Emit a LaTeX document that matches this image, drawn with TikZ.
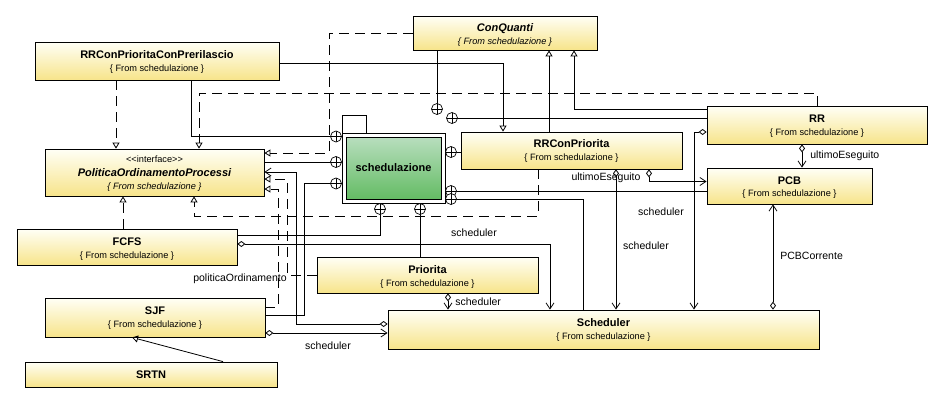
\documentclass[tikz,border=0pt]{standalone}
\usepackage{fontspec}
\setmainfont{Liberation Sans}
\usetikzlibrary{arrows.meta,calc,fit}
\definecolor{ytop}{RGB}{255,255,246}
\definecolor{ybot}{RGB}{247,228,138}
\definecolor{gtop}{RGB}{184,222,190}
\definecolor{gbot}{RGB}{100,188,100}
\begin{document}
\begin{tikzpicture}[x=1pt,y=-1pt,line width=0.8pt,
  cls/.style={draw,inner sep=0pt,top color=ytop,bottom color=ybot,line width=0.8pt},
  nm/.style={font=\fontsize{11}{13}\selectfont\bfseries,inner sep=0pt},
  nmi/.style={font=\fontsize{11}{13}\selectfont\bfseries\itshape,inner sep=0pt},
  frm/.style={font=\fontsize{9.2}{11}\selectfont,inner sep=0pt},
  frmi/.style={font=\fontsize{9.2}{11}\selectfont\itshape,inner sep=0pt},
  lbl/.style={font=\fontsize{10.5}{12}\selectfont,inner sep=0pt},
  gen/.style={-{Triangle[open,length=6pt,width=7pt]}},
  real/.style={gen,dash pattern=on 10pt off 6pt},
  agg/.style={{Diamond[open,length=8pt,width=6pt]}-{Straight Barb[length=6pt,width=8pt]}},
  oplus/.style={circle,draw,fill=white,minimum size=11pt,inner sep=0pt,line width=0.7pt,
    path picture={\draw[line width=0.7pt] (path picture bounding box.north) -- (path picture bounding box.south)
      (path picture bounding box.west) -- (path picture bounding box.east);}}
]
\fill[white] (0,0) rectangle (942,402);
\useasboundingbox (0,0) rectangle (942,402);

% classes
\node[cls,fit={(35,42)(279,80)}] (rrcpp) {};
\node[cls,fit={(45,149)(264,196)}] (pol) {};
\node[cls,fit={(413,16)(597,50)}] (cq) {};
\node[cls,fit={(461,132)(682,169)}] (rrcp) {};
\node[cls,fit={(707,106)(927,144)}] (rr) {};
\node[cls,fit={(707,168)(872,204)}] (pcb) {};
\node[cls,fit={(17,229)(237,265)}] (fcfs) {};
\node[cls,fit={(317,257)(538,293)}] (pri) {};
\node[cls,fit={(45,298)(265,337)}] (sjf) {};
\node[cls,fit={(25,362)(277,387)}] (srtn) {};
\node[cls,fit={(388,310)(819,349)}] (sch) {};

% package
\draw[fill=white] (342,133) |- (366,115) -- (366,133);
\node[draw,fill=white,inner sep=0pt,fit={(342,133)(445,203)}] (pkgout) {};
\node[draw,inner sep=0pt,top color=gtop,bottom color=gbot,fit={(346,137)(441,199)}] (pkg) {};
\node[nm] at (pkg.center) {schedulazione};

% oplus anchors
\coordinate (c1) at (336,136.5);
\coordinate (c2) at (336,162);
\coordinate (c3) at (336,183.5);
\coordinate (c4) at (451,152);
\coordinate (c5) at (451,191);
\coordinate (c6) at (451,199);
\coordinate (c7) at (380,209);
\coordinate (c8) at (420,209);
\coordinate (c9) at (437,109);
\coordinate (c10) at (452,118);

% realizations
\draw[real] (cq.west |- 0,33) -| (329,153) -- (pol.east |- 0,153);
\draw[real] (rrcpp.south -| 116,0) -- (pol.north -| 116,0);
\draw[real] (rr.north -| 817,0) |- (199,93) -- (pol.north -| 199,0);
\draw[real] (pri.west |- 0,275) -| (287,179) -- (pol.east |- 0,179);
\draw[real] (sjf.east |- 0,307) -| (278,189) -- (pol.east |- 0,189);
\draw[real] (fcfs.north -| 123,0) -- (pol.south -| 123,0);
\draw[real] (rrcp.south -| 538,0) |- (194,216) -- (pol.south -| 194,0);
% generalizations
\draw[gen] (rrcpp.east |- 0,63) -| (rrcp.north -| 503,0);
\draw[gen] (rrcp.north -| 549,0) -- (cq.south -| 549,0);
\draw[gen] (rr.west |- 0,109) -| (cq.south -| 574,0);
\draw[gen] (srtn.north -| 223,0) -- (sjf.south -| 132,0);
% nesting
\draw (rrcpp.south -| 191,0) |- (c1);
\draw (cq.south -| 437,0) -- (c9);
\draw (rr.west |- c10) -- (c10);
\draw (pol.east |- c2) -- (c2);
\draw (sjf.east |- 0,315) -| (304,183.5) -- (c3);
\draw (rrcp.west |- c4) -- (c4);
\draw (pcb.west |- c5) -- (c5);
\draw (sch.north -| 583,0) |- (c6);
\draw (fcfs.east |- 0,235) -| (c7);
\draw (pri.north -| c8) -- (c8);
% associations
\draw[agg] (sch.west |- 0,324) -| (296,172) -- (pol.east |- 0,172);
\draw[agg] (fcfs.east |- 0,244) -| (sch.north -| 550,0);
\draw[agg] (pri.south -| 448,0) -- (sch.north -| 448,0);
\draw[agg] (sjf.east |- 0,333) -- (sch.west |- 0,333);
\draw[agg] (rrcp.south -| 616,0) -- (sch.north -| 616,0);
\draw[agg] (rr.west |- 0,132) -| (sch.north -| 694,0);
\draw[agg] (rrcp.south -| 649,0) |- (pcb.west |- 0,181.5);
\draw[agg] (rr.south -| 802,0) -- (pcb.north -| 802,0);
\draw[agg] (sch.north -| 773,0) -- (pcb.south -| 773,0);

% oplus symbols
\foreach \c in {c1,c2,c3,c4,c5,c6,c7,c8,c9,c10} \node[oplus] at (\c) {};

% class texts
\node[nm] at ($(rrcpp.north)+(0,13)$) {RRConPrioritaConPrerilascio};
\node[frm] at ($(rrcpp.north)+(0,28)$) {\{ From schedulazione \}};
\node[frm] at ($(pol.north)+(0,11)$) {<{}<interface>{}>};
\node[nmi] at ($(pol.north)+(0,24)$) {PoliticaOrdinamentoProcessi};
\node[frmi] at ($(pol.north)+(0,39)$) {\{ From schedulazione \}};
\node[nmi] at ($(cq.north)+(0,13)$) {ConQuanti};
\node[frmi] at ($(cq.north)+(0,27)$) {\{ From schedulazione \}};
\node[nm] at ($(rrcp.north)+(0,12)$) {RRConPriorita};
\node[frm] at ($(rrcp.north)+(0,27)$) {\{ From schedulazione \}};
\node[nm] at ($(rr.north)+(0,13)$) {RR};
\node[frm] at ($(rr.north)+(0,28)$) {\{ From schedulazione \}};
\node[nm] at ($(pcb.north)+(0,13)$) {PCB};
\node[frm] at ($(pcb.north)+(0,27)$) {\{ From schedulazione \}};
\node[nm] at ($(fcfs.north)+(0,13)$) {FCFS};
\node[frm] at ($(fcfs.north)+(0,28)$) {\{ From schedulazione \}};
\node[nm] at ($(pri.north)+(0,13)$) {Priorita};
\node[frm] at ($(pri.north)+(0,28)$) {\{ From schedulazione \}};
\node[nm] at ($(sjf.north)+(0,13)$) {SJF};
\node[frm] at ($(sjf.north)+(0,28)$) {\{ From schedulazione \}};
\node[nm] at (srtn.center) {SRTN};
\node[nm] at ($(sch.north)+(0,13)$) {Scheduler};
\node[frm] at ($(sch.north)+(0,28)$) {\{ From schedulazione \}};

% role labels
\node[lbl] at (240,279) {politicaOrdinamento};
\node[lbl] at (474,233) {scheduler};
\node[lbl,anchor=west] at (455,302) {scheduler};
\node[lbl] at (328,346) {scheduler};
\node[lbl] at (646,246) {scheduler};
\node[lbl] at (661,212) {scheduler};
\node[lbl] at (606,178) {ultimoEseguito};
\node[lbl,anchor=west] at (810,156) {ultimoEseguito};
\node[lbl,anchor=west] at (780,256) {PCBCorrente};
\end{tikzpicture}
\end{document}
